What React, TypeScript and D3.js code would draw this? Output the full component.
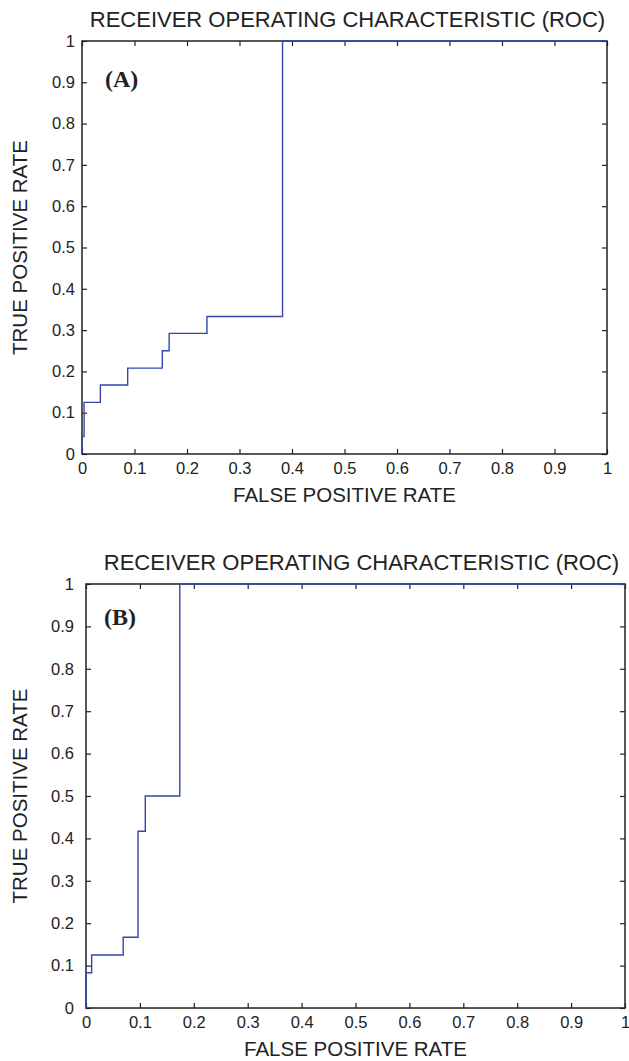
import React, { useEffect, useRef } from "react";
import * as d3 from "d3";

// ROC curve (A): false positive rate / true positive rate at each step
const fprA = [0, 0, 0.004, 0.035, 0.087, 0.153, 0.166, 0.238, 0.382, 1];
const tprA = [0, 0.042, 0.125, 0.167, 0.208, 0.25, 0.292, 0.333, 1, 1];

// ROC curve (B)
const fprB = [0, 0, 0.0105, 0.069, 0.0965, 0.11, 0.174, 1];
const tprB = [0, 0.083, 0.125, 0.167, 0.417, 0.5, 1, 1];

const tickValues = [0, 0.1, 0.2, 0.3, 0.4, 0.5, 0.6, 0.7, 0.8, 0.9, 1];
const titleText = "RECEIVER OPERATING CHARACTERISTIC (ROC)";
const xLabelText = "FALSE POSITIVE RATE";
const yLabelText = "TRUE POSITIVE RATE";

const W = 629;
const H = 1061;
const SANS = "'Liberation Sans', Arial, Helvetica, sans-serif";
const SERIF = "'Liberation Serif', 'Times New Roman', serif";
const INK = "#222";
const BLUE = "#3347ad";

function drawRoc(svg, opt) {
  const { left, top, width, height, fpr, tpr, letter, yPad } = opt;

  const x = d3.scaleLinear().domain([0, 1]).range([0, width]);
  const y = d3.scaleLinear().domain([0, 1]).range([height, 0]);
  const fmt = (d) => String(+(+d).toFixed(1));

  const g = svg.append("g").attr("transform", `translate(${left},${top})`);

  // inward ticks on all four sides, MATLAB style
  const bottom = g.append("g")
    .attr("transform", `translate(0,${height})`)
    .call(d3.axisBottom(x).tickValues(tickValues).tickSize(-5).tickPadding(8.3).tickFormat(fmt));
  const leftAx = g.append("g")
    .call(d3.axisLeft(y).tickValues(tickValues).tickSize(-5).tickPadding(yPad).tickFormat(fmt));
  const topAx = g.append("g")
    .call(d3.axisTop(x).tickValues(tickValues).tickSize(-5).tickFormat(() => ""));
  const rightAx = g.append("g")
    .attr("transform", `translate(${width},0)`)
    .call(d3.axisRight(y).tickValues(tickValues).tickSize(-5).tickFormat(() => ""));

  [bottom, leftAx, topAx, rightAx].forEach((a) => {
    a.select(".domain").remove();
    a.selectAll("line").attr("stroke", INK).attr("stroke-width", 1.2);
    a.selectAll("text")
      .attr("fill", INK)
      .style("font-family", SANS)
      .style("font-size", "16.5px");
  });

  // box
  g.append("rect")
    .attr("x", 0)
    .attr("y", 0)
    .attr("width", width)
    .attr("height", height)
    .attr("fill", "none")
    .attr("stroke", INK)
    .attr("stroke-width", 1.5);

  // ROC step curve
  const pts = fpr.map((f, i) => [f, tpr[i]]);
  const line = d3.line()
    .x((d) => x(d[0]))
    .y((d) => y(d[1]))
    .curve(d3.curveStepAfter);
  g.append("path")
    .attr("d", line(pts))
    .attr("fill", "none")
    .attr("stroke", BLUE)
    .attr("stroke-width", 1.4);

  // panel letter
  g.append("text")
    .attr("x", opt.letterX)
    .attr("y", opt.letterY)
    .text(letter)
    .style("font-family", SERIF)
    .style("font-weight", "bold")
    .style("font-size", "24px")
    .attr("fill", INK);

  // title
  svg.append("text")
    .attr("x", left + width / 2 + opt.titleShift)
    .attr("y", top - 14)
    .attr("text-anchor", "middle")
    .text(titleText)
    .style("font-family", SANS)
    .style("font-size", "22px")
    .attr("fill", INK);

  // axis labels
  svg.append("text")
    .attr("x", left + width / 2)
    .attr("y", top + height + 48)
    .attr("text-anchor", "middle")
    .text(xLabelText)
    .style("font-family", SANS)
    .style("font-size", "20.5px")
    .attr("fill", INK);

  svg.append("text")
    .attr("transform", `translate(27,${top + height / 2}) rotate(-90)`)
    .attr("text-anchor", "middle")
    .text(yLabelText)
    .style("font-family", SANS)
    .style("font-size", "20.5px")
    .attr("fill", INK);
}

export default function App() {
  const ref = useRef(null);

  useEffect(() => {
    const svg = d3.select(ref.current);
    svg.selectAll("*").remove();

    svg.append("rect").attr("width", W).attr("height", H).attr("fill", "#fff");

    drawRoc(svg, {
      left: 82, top: 41, width: 525, height: 413,
      fpr: fprA, tpr: tprA, letter: "(A)", letterX: 23, letterY: 46, yPad: 7, titleShift: 3,
    });
    drawRoc(svg, {
      left: 86, top: 584, width: 539, height: 424,
      fpr: fprB, tpr: tprB, letter: "(B)", letterX: 18, letterY: 41, yPad: 12, titleShift: 6,
    });
  }, []);

  return (
    <svg
      ref={ref}
      width={W}
      height={H}
      style={{ position: "absolute", left: 0, top: 0, display: "block" }}
    />
  );
}
